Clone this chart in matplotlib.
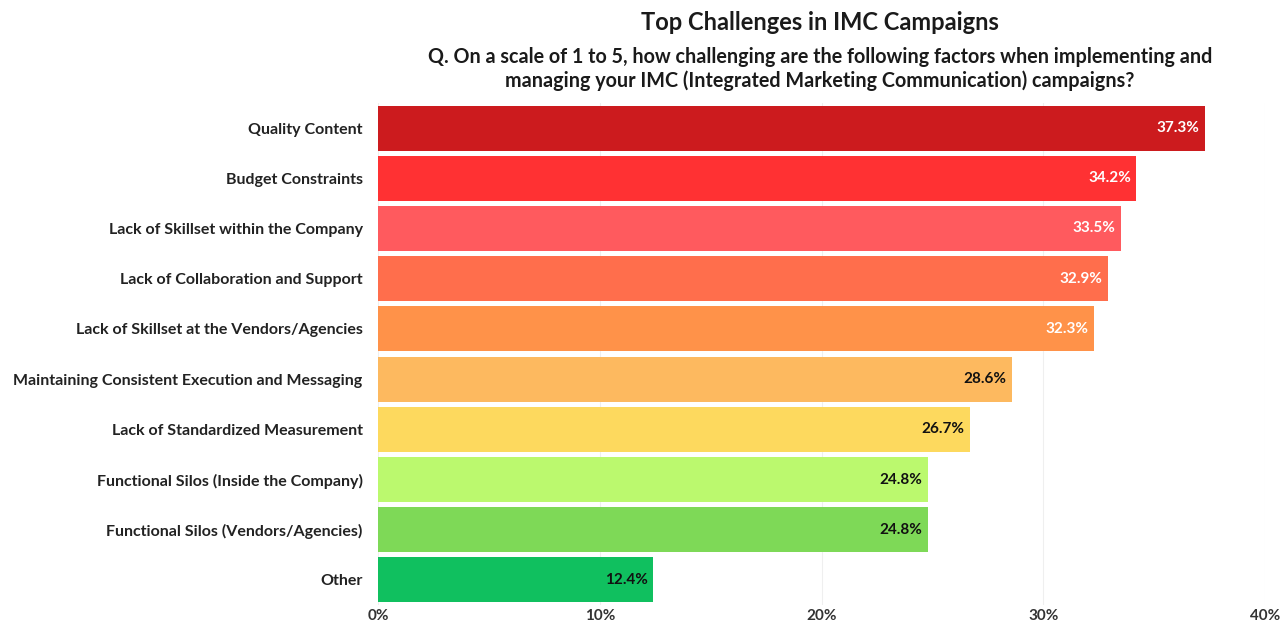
import matplotlib.pyplot as plt
import numpy as np

plt.rcParams['font.family'] = ['Lato', 'DejaVu Sans']

challenges = [
    "Quality Content",
    "Budget Constraints",
    "Lack of Skillset within the Company",
    "Lack of Collaboration and Support",
    "Lack of Skillset at the Vendors/Agencies",
    "Maintaining Consistent Execution and Messaging",
    "Lack of Standardized Measurement",
    "Functional Silos (Inside the Company)",
    "Functional Silos (Vendors/Agencies)",
    "Other",
]
shares = [37.3, 34.2, 33.5, 32.9, 32.3, 28.6, 26.7, 24.8, 24.8, 12.4]
bar_colors = ["#CC1B1E", "#FF3133", "#FF5A5E", "#FF6E4C", "#FF9249",
              "#FDB95F", "#FDD95E", "#BBF96E", "#7ED957", "#10C05F"]
label_colors = ["white"] * 5 + ["#111111"] * 5
x_ticks = [0, 10, 20, 30, 40]

fig = plt.figure(figsize=(12.82, 6.26), dpi=100)
ax = fig.add_axes([378 / 1282, 21 / 626, (1265 - 378) / 1282, 502 / 626])

y = np.arange(len(challenges))
ax.barh(y, shares, height=0.9, color=bar_colors, zorder=2)
for yi, v, c in zip(y, shares, label_colors):
    ax.text(v - 0.25, yi, f"{v}%", ha="right", va="center",
            color=c, fontsize=11, fontweight="bold", zorder=3)

ax.set_ylim(len(challenges) - 0.5, -0.5)
ax.set_xlim(0, 40)
ax.set_yticks(y)
ax.set_yticklabels(challenges, fontsize=11.5, fontweight="bold", color="#222222")
ax.set_xticks(x_ticks)
ax.set_xticklabels([f"{t}%" for t in x_ticks], fontsize=11,
                   fontweight="bold", color="#333333")
ax.tick_params(length=0)
ax.tick_params(axis="x", pad=3)
ax.tick_params(axis="y", pad=11)
ax.xaxis.grid(True, color="#EFEFEF", linewidth=0.8, zorder=0)
for s in ax.spines.values():
    s.set_visible(False)

fig.text(820 / 1282, 1 - 22 / 626, "Top Challenges in IMC Campaigns",
         ha="center", va="center", fontsize=17, fontweight="bold", color="#1a1a1a")
fig.text(820 / 1282, 1 - 69 / 626,
         "Q. On a scale of 1 to 5, how challenging are the following factors when implementing and\n"
         "managing your IMC (Integrated Marketing Communication) campaigns?",
         ha="center", va="center", fontsize=14.2, fontweight="bold",
         color="#1a1a1a", linespacing=1.15)

fig.savefig("out.png", dpi=100)
